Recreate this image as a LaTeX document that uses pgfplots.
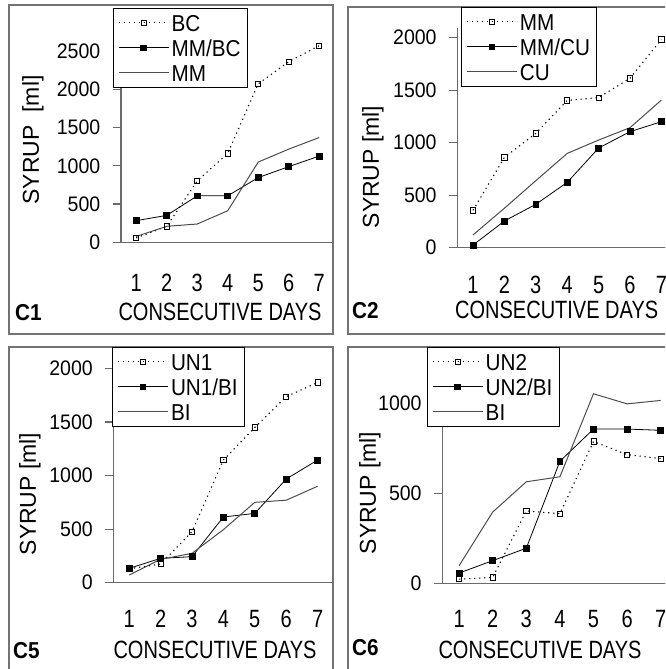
\documentclass[border=0pt]{standalone}
\usepackage{fontspec}
\setmainfont{Liberation Sans}
\newfontfamily\narrowA{Liberation Sans}[FakeStretch=0.8]
\newfontfamily\narrowB{Liberation Sans}[FakeStretch=0.9]
\newfontfamily\narrowC{Liberation Sans}[FakeStretch=0.93]
\usepackage{pgfplots}
\pgfplotsset{compat=1.18}

\definecolor{axgray}{gray}{0.42}
\definecolor{boxgray}{gray}{0.45}
\definecolor{lgray}{gray}{0.3}

\pgfplotsset{
  /pgf/number format/assume math mode=true,
  /pgf/number format/1000 sep={},
  panel/.style={
    scale only axis, anchor=south west,
    axis x line*=bottom, axis y line*=left,
    axis line style={axgray, line width=1.2pt},
    xmin=0.5, xmax=7.5, ymin=0,
    scaled y ticks=false,
    xtick={1,...,7}, minor xtick={0.5,1.5,...,7.5},
    x tick style={draw=none},
    minor x tick style={axgray, line width=1.2pt},
    y tick style={axgray, line width=1.2pt},
    tick align=outside, major tick length=8.5pt, minor tick length=8.5pt,
    yticklabel style={font=\fontsize{21}{22}\selectfont\narrowC, inner sep=1pt, xshift=-11pt},
    xticklabel style={font=\fontsize{25}{26}\selectfont\narrowA, anchor=base},
    legend cell align=left,
    legend image code/.code={\draw[mark repeat=2,mark phase=2,##1] plot coordinates {(0pt,0pt) (25pt,0pt) (50pt,0pt)};},
    legend style={draw=black, line width=0.8pt, fill=white, anchor=north west,
      font=\fontsize{23}{24}\selectfont\narrowB,
      inner xsep=5pt, inner ysep=2pt, row sep=0pt, column sep=1pt,
      nodes={inner xsep=1.5pt, inner ysep=4.25pt, text height=16.5pt, text depth=0pt}},
  },
  sOpen/.style={black, line width=1.1pt, dash pattern=on 1.2pt off 3.8pt,
    mark=square, mark size=2.6pt, mark options={solid, fill=white, line width=0.8pt}},
  sMix/.style={black, line width=0.8pt, mark=square*, mark size=2.9pt, mark options={solid}},
  sLine/.style={lgray, line width=1pt, no markers},
}

\begin{document}
\begin{tikzpicture}
\path[use as bounding box] (0pt,0pt) rectangle (665pt,669pt);
\begin{scope}
\clip (0pt,0pt) rectangle (665pt,669pt);

% panel frames
\draw[boxgray, line width=1.3pt] (9pt,335pt) rectangle (333pt,664pt);
\draw[boxgray, line width=1.3pt] (348pt,335pt) rectangle (700pt,662pt);
\draw[boxgray, line width=1.3pt] (9pt,322pt) rectangle (333pt,-30pt);
\draw[boxgray, line width=1.3pt] (348pt,322pt) rectangle (700pt,-30pt);

% C1
\begin{axis}[panel, at={(121pt,426.8pt)}, width=213.5pt, height=210.1pt,
  ymax=2750, ytick={0,500,...,2500},
  xticklabel style={yshift=-40.8pt},
  legend style={at={(-0.039,1.1147)}}]
\addplot[sOpen] coordinates {(1,56) (2,208) (3,802) (4,1162) (5,2073) (6,2363) (7,2572)};
\addlegendentry{BC}
\addplot[sMix] coordinates {(1,282) (2,351) (3,607) (4,607) (5,846) (6,989) (7,1127)};
\addlegendentry{MM/BC}
\addplot[sLine] coordinates {(1,75) (2,208) (3,238) (4,412) (5,1049) (6,1218) (7,1370)};
\addlegendentry{MM}
\end{axis}

% C2
\begin{axis}[panel, at={(457.3pt,421.3pt)}, width=219.8pt, height=219.45pt,
  ymax=2090, ytick={0,500,...,2000},
  xticklabel style={yshift=-37.8pt},
  legend style={at={(0.0168,1.0968)}}]
\addplot[sOpen] coordinates {(1,356) (2,860) (3,1089) (4,1403) (5,1429) (6,1613) (7,1984)};
\addlegendentry{MM}
\addplot[sMix] coordinates {(1,25) (2,254) (3,413) (4,622) (5,949) (6,1105) (7,1200)};
\addlegendentry{MM/CU}
\addplot[sLine] coordinates {(1,121) (2,376) (3,638) (4,898) (5,1025) (6,1143) (7,1406)};
\addlegendentry{CU}
\end{axis}

% C5
\begin{axis}[panel, at={(113.5pt,86.3pt)}, width=219.8pt, height=225pt,
  ymax=2100, ytick={0,500,...,2000},
  xticklabel style={yshift=-36.1pt},
  legend style={at={(-0.0068,1.0476)}}]
\addplot[sOpen] coordinates {(1,130) (2,174) (3,476) (4,1145) (5,1449) (6,1736) (7,1869)};
\addlegendentry{UN1}
\addplot[sMix] coordinates {(1,134) (2,227) (3,243) (4,613) (5,647) (6,967) (7,1145)};
\addlegendentry{UN1/BI}
\addplot[sLine] coordinates {(1,72) (2,218) (3,274) (4,495) (5,750) (6,770) (7,900)};
\addlegendentry{BI}
\end{axis}

% C6
\begin{axis}[panel, at={(442.3pt,85.5pt)}, width=235.2pt, height=216pt,
  ymax=1200, ytick={0,500,1000},
  xticklabel style={yshift=-35.3pt},
  legend style={at={(-0.0663,1.095)}}]
\addplot[sOpen] coordinates {(1,24) (2,34) (3,403) (4,388) (5,789) (6,716) (7,694)};
\addlegendentry{UN2}
\addplot[sMix] coordinates {(1,58) (2,127) (3,196) (4,679) (5,858) (6,858) (7,851)};
\addlegendentry{UN2/BI}
\addplot[sLine] coordinates {(1,99) (2,397) (3,565) (4,593) (5,1054) (6,998) (7,1017)};
\addlegendentry{BI}
\end{axis}

% labels
\begin{scope}[every node/.style={inner sep=0pt}]
\node[font=\fontsize{25}{26}\selectfont\narrowA] at (220pt,357pt) {CONSECUTIVE DAYS};
\node[font=\fontsize{25}{26}\selectfont\narrowA] at (556.7pt,359pt) {CONSECUTIVE DAYS};
\node[font=\fontsize{25}{26}\selectfont\narrowA] at (215pt,19pt) {CONSECUTIVE DAYS};
\node[font=\fontsize{25}{26}\selectfont\narrowA] at (540pt,19pt) {CONSECUTIVE DAYS};
\node[font=\fontsize{23}{24}\selectfont, rotate=90] at (33pt,529pt) {SYRUP\ \ [ml]};
\node[font=\fontsize{23}{24}\selectfont, rotate=90] at (373pt,502pt) {SYRUP [ml]};
\node[font=\fontsize{23}{24}\selectfont, rotate=90] at (30pt,175pt) {SYRUP [ml]};
\node[font=\fontsize{23}{24}\selectfont, rotate=90] at (370pt,176pt) {SYRUP [ml]};
\node[font=\fontsize{23}{24}\selectfont\narrowB\bfseries, anchor=west] at (15pt,356pt) {C1};
\node[font=\fontsize{23}{24}\selectfont\narrowB\bfseries, anchor=west] at (352pt,358pt) {C2};
\node[font=\fontsize{23}{24}\selectfont\narrowB\bfseries, anchor=west] at (13pt,18pt) {C5};
\node[font=\fontsize{23}{24}\selectfont\narrowB\bfseries, anchor=west] at (352pt,21pt) {C6};
\end{scope}
\end{scope}
\end{tikzpicture}
\end{document}
